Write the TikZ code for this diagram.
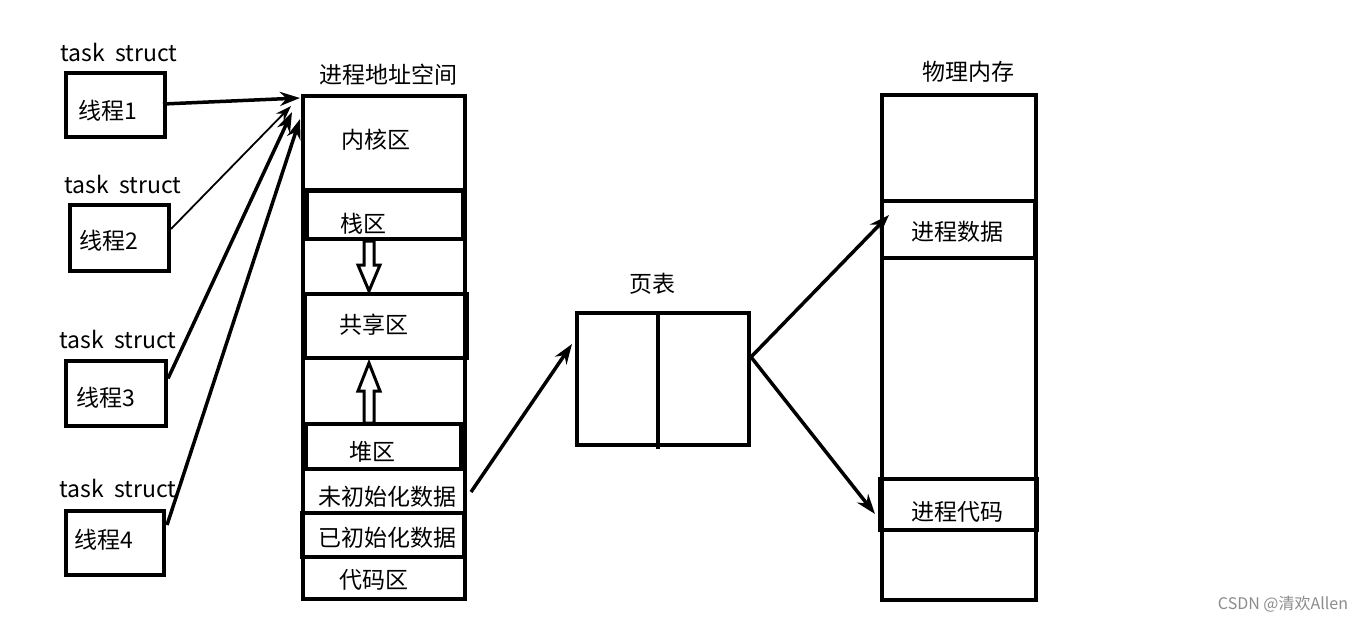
\documentclass[tikz,border=0pt]{standalone}
\usepackage{fontspec}
\setmainfont{Noto Sans CJK SC}
\usetikzlibrary{arrows.meta,calc}
\begin{document}
\begin{tikzpicture}[x=1pt,y=-1pt,
  font=\fontsize{23}{26}\selectfont,
  box/.style={draw, line width=4pt, inner sep=0pt},
  lbl/.style={inner sep=0pt},
  ptr/.style={line width=3.5pt, -{Stealth[length=20pt,width=14pt]}},
  thinptr/.style={line width=1.8pt, -{Stealth[length=16pt,width=11pt]}},
  hollow/.style={draw, line width=3pt, fill=white, line join=miter}]
\useasboundingbox (0,0) rectangle (1365,621);
\fill[white] (0,0) rectangle (1365,621);

% threads
\node[box, minimum width=99pt, minimum height=64pt] (th1) at (115.5,105) {};
\node[lbl] (th1t) at (108,111) {线程1};
\node[lbl] (ts1) at (119,52) {task\ \ struct};
\node[box, minimum width=99pt, minimum height=66pt] (th2) at (119.5,238) {};
\node[lbl] (th2t) at (109,241) {线程2};
\node[lbl] (ts2) at (123,184) {task\ \ struct};
\node[box, minimum width=100pt, minimum height=65pt] (th3) at (116,393.5) {};
\node[lbl] (th3t) at (106,398) {线程3};
\node[lbl] (ts3) at (118,339) {task\ \ struct};
\node[box, minimum width=98pt, minimum height=64pt] (th4) at (115,543) {};
\node[lbl] (th4t) at (103.5,540) {线程4};
\node[lbl] (ts4) at (118,488) {task\ \ struct};

% process address space
\node[lbl] (astitle) at (388,75) {进程地址空间};
\node[box, minimum width=162pt, minimum height=503pt] (as) at (384,347.5) {};
\draw[line width=4pt] (303,190) -- (465,190);
\node[lbl] (kern) at (376,140) {内核区};
\node[box, minimum width=156pt, minimum height=48pt] (stk) at (385,215) {};
\node[lbl] (stkt) at (363,224) {栈区};
\node[box, minimum width=162pt, minimum height=64pt] (shr) at (386,326) {};
\node[lbl] (shrt) at (374,325) {共享区};
\node[box, minimum width=155pt, minimum height=45pt] (heap) at (383.5,446.5) {};
\node[lbl] (heapt) at (372,452) {堆区};
\draw[line width=4pt] (303,469) -- (465,469);
\node[lbl] (unin) at (387,497) {未初始化数据};
\node[box, minimum width=162pt, minimum height=44pt] (init) at (383,535) {};
\node[lbl] (initt) at (387,538) {已初始化数据};
\node[lbl] (code) at (374,580) {代码区};

% hollow arrows
\draw[hollow] (364,241) -- (374,241) -- (374,265) -- (380,265) -- (369,291) -- (358,265) -- (364,265) -- cycle;
\draw[hollow] (364,423) -- (374,423) -- (374,391) -- (380,391) -- (369,363) -- (358,391) -- (364,391) -- cycle;

% page table
\node[lbl] (pttitle) at (652,284) {页表};
\node[box, minimum width=172pt, minimum height=132pt] (pt) at (663,379) {};
\draw[line width=4pt] (pt.north -| 658,0) -- (658,449);

% physical memory
\node[lbl] (pmtitle) at (968,72) {物理内存};
\node[box, minimum width=154pt, minimum height=505pt] (pm) at (959,347) {};
\node[box, minimum width=153pt, minimum height=57pt] (pd) at (958.5,229.5) {};
\node[lbl] (pdt) at (957,232) {进程数据};
\node[box, minimum width=157pt, minimum height=51pt] (pc) at (958.5,504.5) {};
\node[lbl] (pct) at (957,512) {进程代码};

% connector end points
\coordinate (a1) at (300,98);
\coordinate (a2) at (291,106);
\coordinate (a3) at (292,112);
\coordinate (a4) at (300,119);
\coordinate (u1) at (471,492);
\coordinate (p1) at (572,344);
\coordinate (pr) at (751,357);
\coordinate (d1) at (889,215);
\coordinate (c1) at (875,514);

\draw[ptr] ($(th1.east)+(-4,-1)$) -- (a1);
\draw[thinptr] ($(th2.east)+(0,-9)$) -- (a2);
\draw[ptr] ($(th3.east)+(0,-15)$) -- (a3);
\draw[ptr] ($(th4.east)+(1,-18)$) -- (a4);
\draw[ptr] (u1) -- (p1);
\draw[ptr] (pr) -- (d1);
\draw[ptr] (pr) -- (c1);

\node[lbl, text=black!45, font=\fontsize{16}{18}\selectfont] (wm) at (1283,604) {CSDN @清欢Allen};
\end{tikzpicture}
\end{document}
